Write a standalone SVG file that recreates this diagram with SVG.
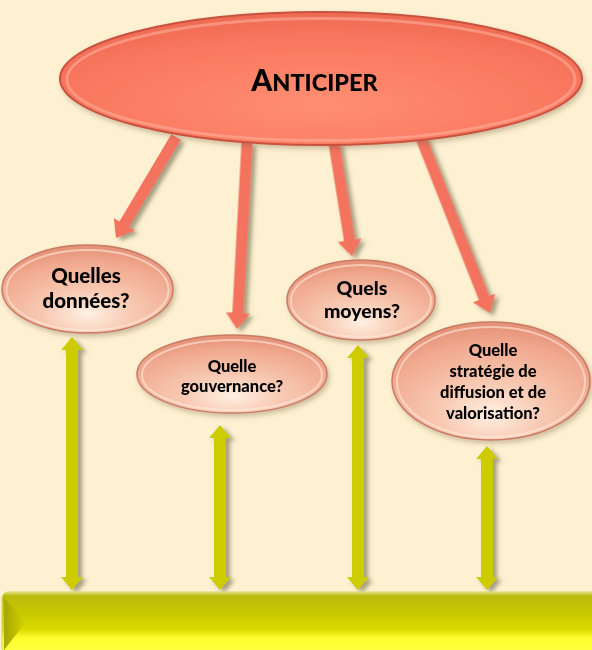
<svg xmlns="http://www.w3.org/2000/svg" width="592" height="650" viewBox="0 0 592 650">
<defs>
<filter id="sh" x="-20%" y="-20%" width="140%" height="140%">
<feDropShadow dx="4" dy="3" stdDeviation="2" flood-color="#5e5a40" flood-opacity="0.55"/>
</filter>
<filter id="nsh" x="-20%" y="-20%" width="140%" height="150%">
<feDropShadow dx="2" dy="3" stdDeviation="2.5" flood-color="#7a6040" flood-opacity="0.35"/>
</filter>
<radialGradient id="gNode" cx="0.5" cy="0.78" r="0.75">
<stop offset="0" stop-color="#FFF0E2"/>
<stop offset="0.35" stop-color="#F8C9B2"/>
<stop offset="0.8" stop-color="#F0A88E"/>
<stop offset="1" stop-color="#E59278"/>
</radialGradient>
<radialGradient id="gTop" cx="0.5" cy="0.7" r="0.7">
<stop offset="0" stop-color="#FF8E72"/>
<stop offset="0.7" stop-color="#F9775E"/>
<stop offset="1" stop-color="#EE6A52"/>
</radialGradient>
<linearGradient id="gBar" x1="0" y1="0" x2="0" y2="1">
<stop offset="0" stop-color="#E4E48A"/>
<stop offset="0.06" stop-color="#BABA10"/>
<stop offset="0.3" stop-color="#C6C600"/>
<stop offset="0.6" stop-color="#DADA00"/>
<stop offset="0.75" stop-color="#FFFF2E"/>
<stop offset="1" stop-color="#FFFF40"/>
</linearGradient>
<linearGradient id="gBev" x1="0" y1="0" x2="1" y2="0">
<stop offset="0" stop-color="#A6A600"/>
<stop offset="1" stop-color="#D4D400"/>
</linearGradient>
<style>
.bg{fill:#FDF1D1}
.red{fill:#F4735E}
.yel{fill:#CCCC00}
.node{fill:url(#gNode);stroke:#C97A64;stroke-width:1.5}
.rim{fill:none;stroke:#FFE9DC;stroke-opacity:0.6;stroke-width:2}
.t{font-family:Lato,"Open Sans","Liberation Sans",sans-serif;font-weight:900;fill:#000;text-anchor:middle}
</style>
</defs>
<rect class="bg" x="0" y="0" width="592" height="650"/>

<g id="connectors">
<g filter="url(#sh)">
<polygon class="yel" points="72,337 83,350 78,350 78,577 83,577 72,590 61,577 66,577 66,350 61,350"/>
<polygon class="yel" points="220,425 231,438 226,438 226,577 231,577 220,590 209,577 214,577 214,438 209,438"/>
<polygon class="yel" points="358,345 369,358 364,358 364,577 369,577 358,590 347,577 352,577 352,358 347,358"/>
<polygon class="yel" points="487,446 498,459 493,459 493,577 498,577 487,590 476,577 481,577 481,459 476,459"/>
</g>
<g filter="url(#sh)">
<path class="red" transform="translate(176,137) rotate(30.7)" d="M-5.5,0 H5.5 V101.5 H12 L0,117.5 L-12,101.5 H-5.5 Z"/>
<path class="red" transform="translate(247,143) rotate(3.08)" d="M-5.5,0 H5.5 V170.3 H12 L0,186.3 L-12,170.3 H-5.5 Z"/>
<path class="red" transform="translate(334,143) rotate(-9.05)" d="M-5.5,0 H5.5 V98.4 H12 L0,114.4 L-12,98.4 H-5.5 Z"/>
<path class="red" transform="translate(421,138) rotate(-21.5)" d="M-5.5,0 H5.5 V172.1 H12 L0,188.1 L-12,172.1 H-5.5 Z"/>
</g>
</g>

<g id="n-donnees" filter="url(#nsh)">
<ellipse class="node" cx="87.5" cy="289" rx="85.5" ry="44"/>
<ellipse class="rim" cx="87.5" cy="290" rx="81" ry="40"/>
<text class="t" font-size="20.5" x="86" y="283">Quelles</text>
<text class="t" font-size="20.5" x="86" y="308">données?</text>
</g>

<g id="n-gouvernance" filter="url(#nsh)">
<ellipse class="node" cx="232" cy="374" rx="95" ry="39"/>
<ellipse class="rim" cx="232" cy="375" rx="90" ry="35"/>
<text class="t" font-size="16.5" x="232" y="372">Quelle</text>
<text class="t" font-size="16.5" x="232" y="392">gouvernance?</text>
</g>

<g id="n-moyens" filter="url(#nsh)">
<ellipse class="node" cx="361" cy="300" rx="74" ry="40"/>
<ellipse class="rim" cx="361" cy="301" rx="70" ry="36"/>
<text class="t" font-size="19.5" x="362" y="295">Quels</text>
<text class="t" font-size="19.5" x="362" y="318">moyens?</text>
</g>

<g id="n-strategie" filter="url(#nsh)">
<ellipse class="node" cx="491" cy="381" rx="99" ry="59"/>
<ellipse class="rim" cx="491" cy="382" rx="94" ry="55"/>
<text class="t" font-size="16.5" x="493" y="356">Quelle</text>
<text class="t" font-size="16.5" x="493" y="377">stratégie de</text>
<text class="t" font-size="16.5" x="493" y="398">diffusion et de</text>
<text class="t" font-size="16.5" x="493" y="419">valorisation?</text>
</g>

<g id="n-anticiper" filter="url(#nsh)">
<ellipse cx="321" cy="78.5" rx="261" ry="66.5" fill="url(#gTop)" stroke="#C9513F" stroke-width="2"/>
<ellipse cx="321" cy="79.5" rx="254" ry="61" fill="none" stroke="#FFB2A0" stroke-opacity="0.55" stroke-width="3"/>
<text class="t" x="314.5" y="91"><tspan font-size="30">A</tspan><tspan font-size="23.5">NTICIPER</tspan></text>
</g>

<g id="n-bar">
<rect x="2" y="592" width="600" height="62" rx="6" fill="url(#gBar)" stroke="#D6D660" stroke-width="1"/>
<polygon points="4,598 26,622 4,650" fill="url(#gBev)"/>
</g>
</svg>
